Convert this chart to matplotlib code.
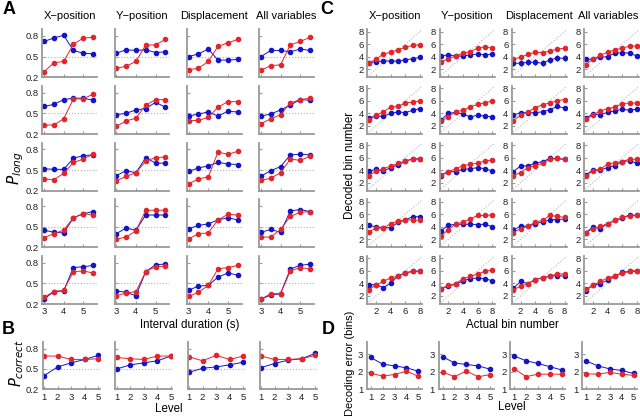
import matplotlib
matplotlib.use('Agg')
import matplotlib.pyplot as plt
import numpy as np

plt.rcParams['font.family'] = ['Liberation Sans', 'DejaVu Sans']

BLUE = '#1414c8'
RED = '#e3262b'
SPINE = '#9a9a9a'

col_titles = ['X\u2212position', 'Y\u2212position', 'Displacement', 'All variables']

# panel A: P(long) vs interval duration, 5 levels (rows) x 4 variables (cols)
a_x = [3, 3.5, 4, 4.5, 5, 5.5]
a_blue = [
    [[0.72, 0.77, 0.81, 0.59, 0.55, 0.54], [0.55, 0.60, 0.59, 0.60, 0.56, 0.57],
     [0.50, 0.54, 0.61, 0.45, 0.45, 0.46], [0.50, 0.59, 0.59, 0.57, 0.61, 0.59]],
    [[0.60, 0.63, 0.70, 0.72, 0.72, 0.69], [0.48, 0.50, 0.55, 0.57, 0.66, 0.59],
     [0.46, 0.49, 0.52, 0.46, 0.53, 0.52], [0.46, 0.49, 0.55, 0.62, 0.70, 0.69]],
    [[0.52, 0.51, 0.51, 0.67, 0.71, 0.72], [0.42, 0.49, 0.46, 0.68, 0.60, 0.60],
     [0.48, 0.53, 0.56, 0.61, 0.59, 0.58], [0.41, 0.49, 0.55, 0.72, 0.73, 0.72]],
    [[0.45, 0.42, 0.41, 0.63, 0.69, 0.72], [0.40, 0.48, 0.45, 0.67, 0.67, 0.67],
     [0.47, 0.52, 0.54, 0.60, 0.63, 0.60], [0.42, 0.46, 0.42, 0.73, 0.75, 0.72]],
    [[0.27, 0.38, 0.39, 0.73, 0.74, 0.76], [0.39, 0.37, 0.32, 0.67, 0.77, 0.78],
     [0.40, 0.46, 0.47, 0.59, 0.65, 0.62], [0.27, 0.33, 0.35, 0.71, 0.76, 0.78]],
]
a_red = [
    [[0.28, 0.41, 0.43, 0.68, 0.77, 0.78], [0.33, 0.36, 0.43, 0.67, 0.67, 0.75],
     [0.31, 0.33, 0.43, 0.65, 0.70, 0.75], [0.30, 0.37, 0.38, 0.67, 0.72, 0.78]],
    [[0.33, 0.33, 0.42, 0.71, 0.71, 0.78], [0.31, 0.39, 0.43, 0.62, 0.70, 0.70],
     [0.39, 0.40, 0.44, 0.59, 0.67, 0.67], [0.35, 0.42, 0.48, 0.65, 0.70, 0.72]],
    [[0.37, 0.36, 0.45, 0.61, 0.66, 0.73], [0.34, 0.41, 0.46, 0.63, 0.68, 0.69],
     [0.30, 0.37, 0.40, 0.76, 0.73, 0.77], [0.35, 0.38, 0.46, 0.66, 0.64, 0.70]],
    [[0.34, 0.40, 0.45, 0.63, 0.69, 0.67], [0.32, 0.35, 0.44, 0.74, 0.74, 0.74],
     [0.32, 0.40, 0.41, 0.60, 0.68, 0.67], [0.35, 0.35, 0.46, 0.65, 0.71, 0.72]],
    [[0.30, 0.38, 0.40, 0.67, 0.68, 0.65], [0.32, 0.36, 0.38, 0.67, 0.74, 0.75],
     [0.31, 0.37, 0.47, 0.71, 0.73, 0.76], [0.27, 0.35, 0.35, 0.68, 0.73, 0.71]],
]

# panel B: P(correct) vs level
levels = [1, 2, 3, 4, 5]
b_blue = [[0.40, 0.53, 0.59, 0.64, 0.70], [0.50, 0.56, 0.59, 0.62, 0.69],
          [0.45, 0.51, 0.53, 0.56, 0.60], [0.52, 0.58, 0.63, 0.65, 0.73]]
b_red = [[0.69, 0.69, 0.64, 0.64, 0.65], [0.67, 0.65, 0.64, 0.69, 0.69],
         [0.68, 0.62, 0.70, 0.64, 0.69], [0.69, 0.64, 0.64, 0.65, 0.70]]

# panel C: decoded bin vs actual bin
c_x = [1, 2, 3, 4, 5, 6, 7, 8]
c_blue = [
    [[3.0, 3.2, 3.3, 3.3, 3.3, 3.5, 3.65, 3.9], [4.1, 4.3, 4.1, 4.1, 4.3, 4.4, 4.3, 4.4],
     [2.95, 2.95, 3.1, 3.1, 2.95, 3.5, 3.75, 3.75], [3.6, 3.6, 3.9, 4.0, 4.55, 4.65, 4.55, 4.1]],
    [[3.3, 3.55, 3.55, 4.0, 4.25, 4.1, 4.5, 4.75], [2.95, 4.0, 4.15, 3.9, 3.45, 3.7, 3.55, 3.45],
     [3.7, 4.1, 4.1, 4.1, 4.25, 4.6, 5.1, 4.85], [3.2, 3.9, 3.8, 4.15, 4.4, 4.65, 4.5, 4.65]],
    [[3.8, 4.1, 3.8, 4.4, 4.8, 5.4, 5.8, 5.8], [3.1, 3.75, 3.75, 4.1, 4.2, 4.4, 4.2, 3.85],
     [3.75, 4.65, 4.65, 5.1, 5.35, 5.85, 5.85, 5.7], [3.2, 4.0, 4.0, 4.4, 4.7, 5.35, 5.5, 5.1]],
    [[4.2, 4.0, 3.85, 3.85, 4.7, 5.1, 5.6, 5.6], [3.35, 4.25, 4.4, 4.4, 4.4, 4.35, 4.4, 4.0],
     [3.45, 4.1, 4.05, 4.5, 4.75, 5.1, 5.15, 5.25], [3.05, 3.95, 3.7, 4.5, 5.0, 5.4, 5.9, 5.8]],
    [[3.8, 3.8, 3.3, 4.05, 5.2, 5.65, 5.95, 5.95], [3.1, 3.6, 3.85, 4.4, 4.75, 4.85, 4.75, 4.4],
     [3.2, 4.3, 3.95, 4.6, 4.9, 5.15, 5.25, 5.15], [2.8, 3.7, 3.95, 4.5, 5.1, 5.75, 5.9, 5.95]],
]
c_red = [
    [[2.95, 3.6, 4.4, 4.7, 5.1, 5.5, 5.8, 5.9], [3.2, 3.65, 4.1, 4.55, 4.8, 5.35, 5.6, 5.35],
     [3.6, 3.9, 4.4, 4.7, 4.65, 4.9, 5.2, 5.35], [2.7, 3.6, 4.2, 4.7, 5.1, 5.35, 5.7, 5.7]],
    [[2.9, 3.7, 4.25, 5.0, 5.1, 5.65, 5.8, 5.95], [2.7, 3.45, 4.25, 4.5, 5.0, 5.45, 5.7, 5.95],
     [2.85, 3.7, 4.25, 4.9, 5.4, 5.65, 6.05, 6.2], [3.05, 3.7, 4.4, 4.75, 5.0, 5.55, 5.65, 5.65]],
    [[3.1, 3.8, 4.2, 4.65, 5.05, 5.45, 5.75, 5.75], [3.2, 3.75, 4.2, 4.7, 4.95, 5.1, 5.45, 5.6],
     [3.1, 3.6, 4.4, 4.7, 5.1, 5.7, 5.85, 5.7], [3.1, 3.85, 4.15, 4.95, 5.2, 5.35, 5.75, 5.7]],
    [[3.15, 3.8, 3.8, 4.5, 4.9, 5.1, 5.1, 5.0], [2.5, 3.55, 4.4, 4.75, 5.25, 5.8, 5.8, 5.9],
     [3.05, 3.7, 4.05, 4.75, 5.0, 5.8, 5.65, 5.5], [3.05, 3.7, 4.05, 4.5, 5.0, 5.5, 5.7, 5.8]],
    [[2.95, 3.75, 4.3, 4.9, 5.15, 5.65, 5.9, 5.9], [3.1, 3.7, 3.95, 4.75, 5.1, 5.5, 5.9, 6.15],
     [2.95, 3.55, 3.95, 4.6, 4.9, 5.15, 5.5, 5.5], [3.05, 3.7, 4.3, 4.85, 5.25, 5.6, 5.9, 6.05]],
]
c_blue_err = [[0.3, 0.3, 0.5, 0.3], [0.3, 0.2, 0.3, 0.2], [0.3, 0.2, 0.2, 0.2],
              [0.3, 0.2, 0.2, 0.2], [0.3, 0.2, 0.2, 0.2]]
c_red_err = [[0.2, 0.25, 0.25, 0.3], [0.2, 0.3, 0.2, 0.2], [0.25, 0.2, 0.2, 0.2],
             [0.3, 0.2, 0.2, 0.2], [0.2, 0.2, 0.2, 0.2]]

# panel D: decoding error vs level
d_blue = [[2.81, 2.43, 2.33, 2.22, 2.03], [2.85, 2.50, 2.41, 2.33, 2.14],
          [2.89, 2.62, 2.47, 2.28, 2.10], [2.62, 2.33, 2.16, 2.07, 1.90]]
d_red = [[1.90, 1.76, 1.84, 2.03, 1.74], [1.98, 1.72, 2.04, 1.71, 1.84],
         [2.17, 1.72, 1.86, 1.86, 1.86], [1.88, 1.86, 1.96, 1.86, 1.79]]

W, H = 640, 416
fig = plt.figure(figsize=(6.4, 4.16), dpi=100)

MS = 3.0
LW = 0.7
TICK_FS = 6.8
LABEL_FS = 8.3
TITLE_FS = 8.0


def add_ax(left, bottom_px, width, height):
    # pixel coords (top-left origin) -> figure fraction
    return fig.add_axes([left / W, 1 - bottom_px / H, width / W, height / H])


def style(ax):
    for s in ['top', 'right']:
        ax.spines[s].set_visible(False)
    for s in ['left', 'bottom']:
        ax.spines[s].set_color(SPINE)
        ax.spines[s].set_linewidth(1.3)
    ax.tick_params(direction='in', length=2, width=0.8, color=SPINE,
                   labelsize=TICK_FS, pad=2.5, labelcolor='#222222')


def series(ax, x, y, color):
    ax.plot(x, y, '-', color=color, lw=LW)
    ax.plot(x, y, 'o', color=color, ms=MS, mec=color)


row_bottoms = [77.3, 134.0, 190.7, 247.4, 304.0]
row_h = 48.2
a_lefts = [42.4, 114.7, 187.0, 259.3]
c_lefts = [367.2, 439.5, 511.8, 584.1]

for r in range(5):
    for c in range(4):
        # panel A
        ax = add_ax(a_lefts[c], row_bottoms[r], 54.6, row_h)
        style(ax)
        ax.axhline(0.5, color='#b0b0b0', ls=':', lw=0.8)
        series(ax, a_x, a_blue[r][c], BLUE)
        series(ax, a_x, a_red[r][c], RED)
        ax.set_xlim(2.92, 5.7)
        ax.set_ylim(0.2, 0.9)
        ax.set_xticks([3, 4, 5])
        ax.set_yticks([0.2, 0.5, 0.8])
        if c > 0:
            ax.set_yticklabels([])
        if r < 4:
            ax.set_xticklabels([])
        if r == 0:
            ax.set_title(col_titles[c], fontsize=TITLE_FS, pad=7)

        # panel C
        ax = add_ax(c_lefts[c], row_bottoms[r], 55, row_h)
        style(ax)
        ax.plot([0.7, 8.4], [0.7, 8.4], ':', color='#b8b8b8', lw=0.8)
        ax.errorbar(c_x, c_blue[r][c], yerr=c_blue_err[r][c], fmt='-o', color=BLUE,
                    lw=LW, ms=MS, elinewidth=0.9, capsize=0)
        ax.errorbar(c_x, c_red[r][c], yerr=c_red_err[r][c], fmt='-o', color=RED,
                    lw=LW, ms=MS, elinewidth=0.9, capsize=0)
        ax.set_xlim(0.8, 8.3)
        ax.set_ylim(0.7, 8.4)
        ax.set_xticks([2, 4, 6, 8])
        ax.set_yticks([2, 4, 6, 8])
        if r < 4:
            ax.set_xticklabels([])
        if r == 0:
            # last title sits a little left so it stays inside the figure
            ax.set_title(col_titles[c], fontsize=TITLE_FS, pad=7,
                         x=0.43 if c == 3 else 0.5)

b_lefts = [42.7, 115.3, 187.6, 259.6]
d_lefts = [366.7, 438.5, 510.2, 581.9]
for c in range(4):
    ax = add_ax(b_lefts[c], 389.3, 57, 47.5)
    style(ax)
    ax.axhline(0.5, color='#b0b0b0', ls=':', lw=0.8)
    series(ax, levels, b_blue[c], BLUE)
    series(ax, levels, b_red[c], RED)
    ax.set_xlim(0.9, 5.1)
    ax.set_ylim(0.2, 0.9)
    ax.set_xticks(levels)
    ax.set_yticks([0.2, 0.5, 0.8])
    if c > 0:
        ax.set_yticklabels([])

    ax = add_ax(d_lefts[c], 389.3, 55, 47.5)
    style(ax)
    series(ax, levels, d_blue[c], BLUE)
    series(ax, levels, d_red[c], RED)
    ax.set_xlim(0.66, 5.28)
    ax.set_ylim(1, 3.7)
    ax.set_xticks(levels)
    ax.set_yticks([1, 2, 3])


def ftext(x, y, s, **kw):
    fig.text(x / W, 1 - y / H, s, ha='center', va='center', **kw)


ftext(9, 10, 'A', fontsize=13, fontweight='bold')
ftext(8, 330, 'B', fontsize=13, fontweight='bold')
ftext(327, 10, 'C', fontsize=13, fontweight='bold')
ftext(328, 330, 'D', fontsize=13, fontweight='bold')

ftext(16, 168, r'$P_{long}$', fontsize=11, rotation=90)
ftext(17, 363, r'$P_{correct}$', fontsize=10.5, rotation=90)
ftext(190, 325, 'Interval duration (s)', fontsize=LABEL_FS)
ftext(169, 409, 'Level', fontsize=LABEL_FS)
ftext(350, 165, 'Decoded bin number', fontsize=LABEL_FS, rotation=90)
ftext(350, 363, 'Decoding error (bins)', fontsize=8.0, rotation=90)
ftext(512, 325, 'Actual bin number', fontsize=LABEL_FS)
ftext(512, 407, 'Level', fontsize=LABEL_FS)

fig.savefig('out.png', dpi=100)
